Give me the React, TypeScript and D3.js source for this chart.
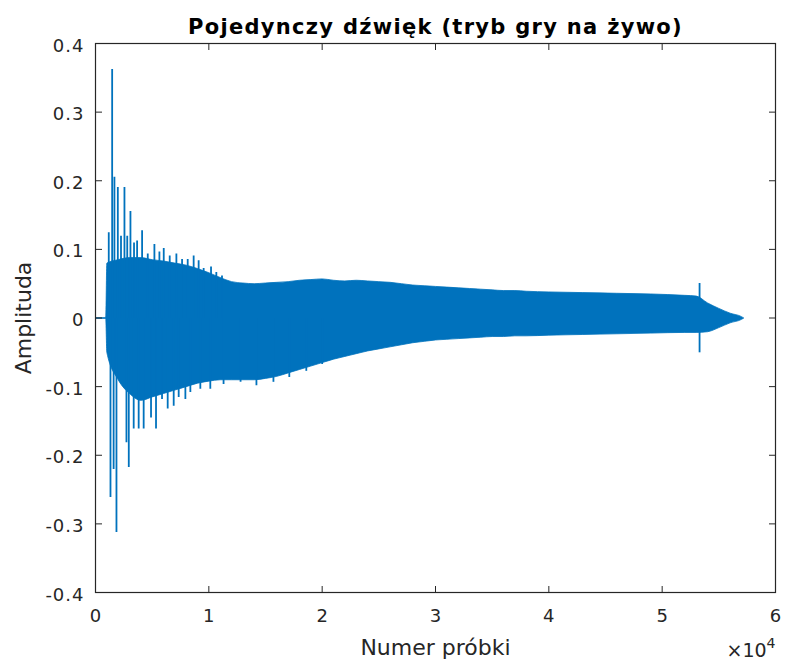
import React from "react";
import * as d3 from "d3";

const title = "Pojedynczy dźwięk (tryb gry na żywo)";
const xLabel = "Numer próbki";
const yLabel = "Amplituda";
const xTicks = [0, 10000, 20000, 30000, 40000, 50000, 60000];
const yTicks = [-0.4, -0.3, -0.2, -0.1, 0, 0.1, 0.2, 0.3, 0.4];

// base envelope of the waveform (sample index, value)
const envSamples = [0, 900, 1000, 2000, 3000, 4000, 5000, 6000, 7000, 8000, 9000, 10000, 11000, 12000, 13000, 14000, 15000, 16000, 17000, 18000, 19000, 20000, 21000, 22000, 23000, 24000, 25000, 26000, 27000, 28000, 29000, 30000, 31000, 32000, 33000, 34000, 35000, 36000, 37000, 38000, 40000, 43000, 46000, 49000, 52000, 53000, 54000, 55000, 56000, 57000, 57200];
const envUpper = [0, 0, 0.08, 0.085, 0.088, 0.088, 0.085, 0.083, 0.08, 0.077, 0.072, 0.066, 0.059, 0.053, 0.051, 0.05, 0.051, 0.052, 0.053, 0.055, 0.056, 0.057, 0.055, 0.054, 0.055, 0.054, 0.053, 0.052, 0.05, 0.048, 0.047, 0.046, 0.045, 0.044, 0.043, 0.042, 0.041, 0.04, 0.04, 0.039, 0.038, 0.037, 0.036, 0.035, 0.033, 0.032, 0.022, 0.014, 0.007, 0.002, 0];
const envLower = [0, 0, -0.05, -0.09, -0.11, -0.12, -0.115, -0.11, -0.105, -0.1, -0.095, -0.092, -0.09, -0.09, -0.09, -0.09, -0.088, -0.085, -0.08, -0.075, -0.07, -0.065, -0.06, -0.056, -0.052, -0.048, -0.045, -0.042, -0.039, -0.036, -0.034, -0.032, -0.031, -0.03, -0.029, -0.028, -0.027, -0.027, -0.026, -0.026, -0.025, -0.024, -0.023, -0.022, -0.021, -0.021, -0.02, -0.014, -0.007, -0.002, 0];

// individual peaks sticking out of the envelope
const upPeakSamples = [1170, 1470, 1670, 1970, 2250, 2555, 2800, 3084, 3400, 3671, 4112, 4611, 5198, 5639, 6021, 6549, 7137, 7639, 8136, 8661, 9101, 9542, 10194, 10661, 11161, 53300];
const upPeakValues = [0.125, 0.363, 0.206, 0.191, 0.12, 0.191, 0.12, 0.156, 0.11, 0.113, 0.128, 0.094, 0.108, 0.097, 0.102, 0.091, 0.094, 0.086, 0.086, 0.091, 0.084, 0.073, 0.075, 0.067, 0.062, 0.051];
const downPeakSamples = [1322, 1600, 1850, 2731, 2937, 3370, 3810, 4250, 4900, 5340, 5870, 6370, 6900, 7340, 7930, 8370, 9250, 10130, 11300, 12800, 14200, 15700, 17100, 18600, 20000, 53300];
const downPeakValues = [-0.261, -0.22, -0.312, -0.181, -0.217, -0.161, -0.161, -0.161, -0.145, -0.161, -0.118, -0.132, -0.128, -0.115, -0.118, -0.108, -0.103, -0.103, -0.096, -0.093, -0.098, -0.093, -0.086, -0.077, -0.067, -0.05];

const W = 786;
const H = 663;
const L = 95.5, R = 775.5, T = 43.5, B = 592.5;
const BLUE = "#0072BD";
const AX = "#262626";
const FONT = "'DejaVu Sans', sans-serif";

export default function App() {
  const x = d3.scaleLinear().domain([0, 60000]).range([L, R]);
  const y = d3.scaleLinear().domain([-0.4, 0.4]).range([B, T]);

  const env = envSamples.map((s, i) => ({ s, u: envUpper[i], l: envLower[i] }));
  const area = d3
    .area<{ s: number; u: number; l: number }>()
    .x((d) => x(d.s))
    .y0((d) => y(d.l))
    .y1((d) => y(d.u))
    .curve(d3.curveMonotoneX);

  const up = upPeakSamples.map((s, i) => ({ s, v: upPeakValues[i] }));
  const down = downPeakSamples.map((s, i) => ({ s, v: downPeakValues[i] }));

  const tickLen = 6.5;

  return (
    <svg width={W} height={H} style={{ position: "absolute", left: 0, top: 0, background: "#fff" }}>
      <rect x={0} y={0} width={W} height={H} fill="#fff" />
      <defs>
        <clipPath id="plotClip">
          <rect x={L} y={T} width={R - L} height={B - T} />
        </clipPath>
      </defs>
      <g clipPath="url(#plotClip)">
        <line x1={x(0)} x2={x(1000)} y1={y(0)} y2={y(0)} stroke={BLUE} strokeWidth={1} />
        <path d={area(env) || ""} fill={BLUE} stroke={BLUE} strokeWidth={0.8} />
        {up.map((d, i) => (
          <line key={"u" + i} x1={x(d.s)} x2={x(d.s)} y1={y(0)} y2={y(d.v)} stroke={BLUE} strokeWidth={1.8} />
        ))}
        {down.map((d, i) => (
          <line key={"d" + i} x1={x(d.s)} x2={x(d.s)} y1={y(0)} y2={y(d.v)} stroke={BLUE} strokeWidth={1.8} />
        ))}
      </g>
      {/* box */}
      <rect x={L} y={T} width={R - L} height={B - T} fill="none" stroke={AX} strokeWidth={1.2} />
      {/* x ticks */}
      {xTicks.map((t) => (
        <g key={"xt" + t}>
          <line x1={x(t)} x2={x(t)} y1={B} y2={B - tickLen} stroke={AX} />
          <line x1={x(t)} x2={x(t)} y1={T} y2={T + tickLen} stroke={AX} />
          <text x={x(t)} y={B + 29} textAnchor="middle" fontFamily={FONT} fontSize={18} fill={AX}>
            {String(t / 10000)}
          </text>
        </g>
      ))}
      {yTicks.map((t) => (
        <g key={"yt" + t}>
          <line x1={L} x2={L + tickLen} y1={y(t)} y2={y(t)} stroke={AX} />
          <line x1={R} x2={R - tickLen} y1={y(t)} y2={y(t)} stroke={AX} />
          <text x={L - 11} y={y(t) + 8} textAnchor="end" fontFamily={FONT} fontSize={18} letterSpacing={1} fill={AX}>
            {t === 0 ? "0" : t.toFixed(1)}
          </text>
        </g>
      ))}
      <text x={(L + R) / 2} y={34} textAnchor="middle" fontFamily={FONT} fontSize={21} fontWeight="bold" letterSpacing={1.3} fill="#000">
        {title}
      </text>
      <text x={(L + R) / 2} y={655} textAnchor="middle" fontFamily={FONT} fontSize={22} fill={AX}>
        {xLabel}
      </text>
      <text transform={`translate(31, ${(T + B) / 2}) rotate(-90)`} textAnchor="middle" fontFamily={FONT} fontSize={22} fill={AX}>
        {yLabel}
      </text>
      <text x={R} y={657} textAnchor="end" fontFamily={FONT} fontSize={19} fill={AX}>
        <tspan>×10</tspan>
        <tspan dy={-9} fontSize={14}>4</tspan>
      </text>
    </svg>
  );
}
